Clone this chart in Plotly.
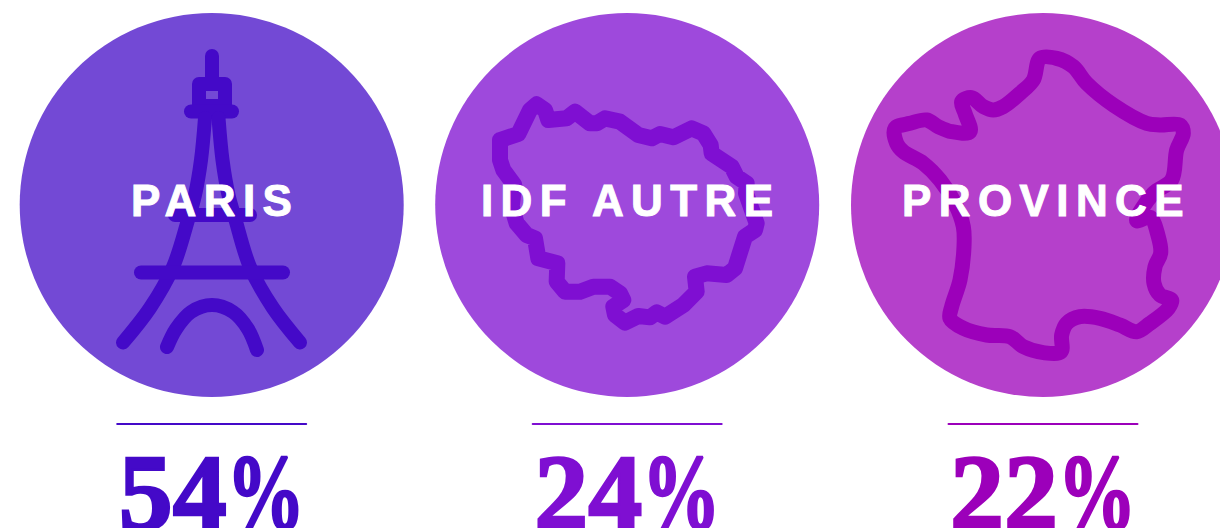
import plotly.graph_objects as go

# Data
categories = ["PARIS", "IDF AUTRE", "PROVINCE"]
shares = [54, 24, 22]
centers_x = [211.7, 627.2, 1043]
disc_colors = ["#7349D5", "#9E49DC", "#B540CB"]
ink_colors = ["#4409C8", "#7F0FD2", "#9C00BA"]

# Icons (pixel space)
eiffel_parts = [
    ([212, 212], [56, 82]),
    ([199, 225, 225, 199, 199], [84, 84, 106, 106, 84]),
    ([191, 232], [111.5, 111.5]),
    ([205, 201, 195, 188, 173, 150, 123], [118, 160, 195, 220, 267, 308, 342.5]),
    ([218.5, 222.5, 228.5, 235.5, 250, 273, 300], [118, 160, 195, 220, 267, 308, 342.5]),
    ([175, 250], [215, 215]),
    ([141, 283], [272.5, 272.5]),
    ([167, 176, 191, 212, 233, 248, 257], [347, 329, 312, 305, 312, 329, 350]),
]
idf_x = [240,295,330,350,375,385,440,465,510,530,555,600,655,695,720,760,815,850,872,875,935,950,980,978,1010,1005,975,945,920,860,825,830,790,735,710,690,655,615,585,580,610,600,570,520,480,435,410,412,355,345,345,320,290,275,283,250,240,240]
idf_y = [240,222,150,133,150,180,175,155,190,190,175,185,225,235,222,232,205,220,255,280,320,350,370,400,490,510,530,625,645,640,650,695,735,770,757,772,768,788,765,740,720,700,680,680,695,695,665,610,595,565,535,525,490,440,375,330,300,240]
france_x = [890,930,955,962,945,942,960,995,985,930,890,840,780,720,680,665,663,610,550,510,440,370,330,335,360,372,370,345,300,250,190,170,165,210,260,295,335,390,375,365,395,430,460,490,540,580,600,650,700,740,820,920,960,1020,1030,1010,995,940,890]
france_y = [572,562,620,670,710,760,795,810,835,880,905,885,865,860,880,915,965,968,950,920,915,895,865,830,750,650,590,520,450,400,365,340,295,280,270,290,305,305,250,215,203,230,240,230,190,150,85,85,110,160,225,280,285,285,310,360,450,490,572]

fig = go.Figure()

# Discs
fig.add_trace(go.Scatter(
    x=centers_x, y=[205, 205, 205], mode="markers",
    marker=dict(size=384, color=disc_colors, line=dict(width=0)),
    cliponaxis=False, hoverinfo="skip", showlegend=False))

# Paris icon
for px, py in eiffel_parts:
    curved = len(px) != 2 and px[0] != px[-1]
    fig.add_trace(go.Scatter(
        x=px, y=py, mode="lines",
        line=dict(color=ink_colors[0], width=14,
                  shape="spline" if curved else "linear", smoothing=1.0),
        hoverinfo="skip", showlegend=False))

# IDF icon
fig.add_trace(go.Scatter(
    x=[420 + v / 3 for v in idf_x], y=[60 + v / 3 for v in idf_y], mode="lines",
    line=dict(color=ink_colors[1], width=16),
    hoverinfo="skip", showlegend=False))

# France icon
fig.add_trace(go.Scatter(
    x=[840 + v / 3 for v in france_x], y=[30 + v / 3 for v in france_y], mode="lines",
    line=dict(color=ink_colors[2], width=15, shape="spline", smoothing=1.0),
    hoverinfo="skip", showlegend=False))

# Dividers
for cx, col in zip(centers_x, ink_colors):
    fig.add_trace(go.Scatter(
        x=[cx - 94.5, cx + 94.5], y=[424, 424], mode="lines",
        line=dict(color=col, width=2), hoverinfo="skip", showlegend=False))

# Labels
fig.add_trace(go.Scatter(
    x=[c + 3.5 for c in centers_x], y=[205, 205, 205],
    mode="text", text=categories, textposition="middle center",
    textfont=dict(family="Liberation Sans", size=44, color="white", weight=700),
    hoverinfo="skip", showlegend=False, name="labels"))

# Shares
fig.add_trace(go.Scatter(
    x=centers_x, y=[502, 502, 502], mode="text",
    text=[f"{v}%" for v in shares], textposition="middle center",
    textfont=dict(family="Liberation Serif", size=108, color=ink_colors, weight=700),
    cliponaxis=False, hoverinfo="skip", showlegend=False, name="shares"))

fig.update_layout(
    width=1220, height=528, margin=dict(l=0, r=0, t=0, b=0),
    paper_bgcolor="white", plot_bgcolor="white", showlegend=False,
    xaxis=dict(range=[0, 1220], visible=False, fixedrange=True),
    yaxis=dict(range=[528, 0], visible=False, fixedrange=True),
)

post = """
document.body.style.margin = '0';
document.body.style.overflow = 'hidden';
document.querySelectorAll('.js-line').forEach(function (p) {
  p.style.strokeLinecap = 'round';
  p.style.strokeLinejoin = 'round';
});
document.querySelectorAll('.textpoint text').forEach(function (t) {
  var s = t.textContent;
  if (s.indexOf('%') >= 0) {
    var ns = 'http://www.w3.org/2000/svg';
    var col = t.style.fill;
    t.textContent = '';
    var a = document.createElementNS(ns, 'tspan');
    a.textContent = s.slice(0, -1);
    var b = document.createElementNS(ns, 'tspan');
    b.textContent = '%';
    b.setAttribute('textLength', '78');
    b.setAttribute('lengthAdjust', 'spacingAndGlyphs');
    t.appendChild(a);
    t.appendChild(b);
    t.style.stroke = col;
    t.style.strokeWidth = '2.6px';
  } else {
    t.style.letterSpacing = '7.4px';
    t.style.stroke = 'white';
    t.style.strokeWidth = '1px';
  }
});
"""
fig.write_html("out.html", post_script=post, config={"displayModeBar": False, "staticPlot": True})
